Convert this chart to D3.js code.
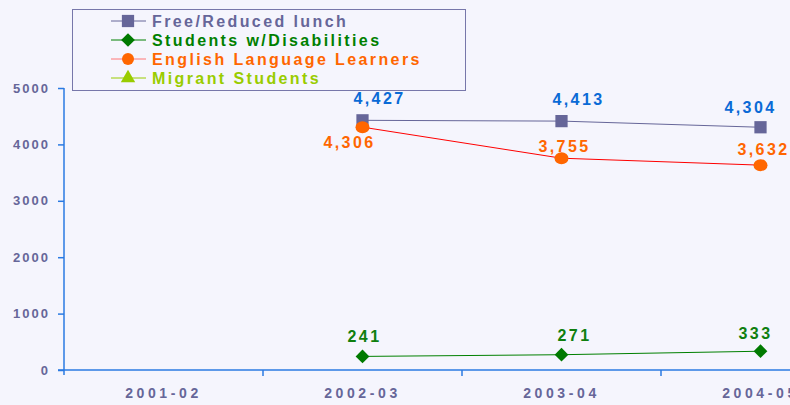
<!DOCTYPE html>
<html>
<head>
<meta charset="utf-8">
<script src="https://cdn.jsdelivr.net/npm/d3@7"></script>
<style>
  html, body { margin: 0; padding: 0; background: #f5f5fd; overflow: hidden; }
  svg { display: block; font-family: "Liberation Sans", Arial, sans-serif; font-weight: bold; }
</style>
</head>
<body>
<div id="chart"></div>
<script>
// Chart data
const years = ['2001-02', '2002-03', '2003-04', '2004-05'];
const freeReduced = [null, 4427, 4413, 4304];
const disabilities = [null, 241, 271, 333];
const englishLearners = [null, 4306, 3755, 3632];
const migrant = [null, null, null, null];
const yTicks = [0, 1000, 2000, 3000, 4000, 5000];

const series = [
    { name: 'Free/Reduced lunch', values: freeReduced, line: '#666699', fill: '#666699', text: '#666699', label: '#0a6ad6', shape: 'square' },
    { name: 'Students w/Disabilities', values: disabilities, line: '#008000', fill: '#007a00', text: '#008000', label: '#0f7f0f', shape: 'diamond' },
    { name: 'English Language Learners', values: englishLearners, line: '#ff0000', fill: '#ff6600', text: '#ff6600', label: '#ff6600', shape: 'circle' },
    { name: 'Migrant Students', values: migrant, line: '#99cc00', fill: '#99cc00', text: '#99cc00', label: '#99cc00', shape: 'triangle' }
];

const width = 790;
const height = 405;
const margin = { left: 64, top: 88, bottom: 35 };
const plotRight = 860; // plot area runs past the window edge

const svg = d3.select('#chart')
    .append('svg')
    .attr('width', width)
    .attr('height', height);

const x = d3.scaleBand().domain(years).range([margin.left, plotRight]);
const y = d3.scaleLinear().domain([0, 5000]).range([height - margin.bottom, margin.top]);
const cx = d => x(d) + x.bandwidth() / 2;

// Y axis
const yAxis = svg.append('g')
    .attr('transform', `translate(${margin.left},0)`)
    .call(d3.axisLeft(y).tickValues(yTicks).tickSize(6).tickPadding(8).tickFormat(d3.format('d')));
yAxis.select('.domain').attr('stroke', '#2a7ae2').attr('stroke-width', 1.5)
    .attr('d', `M0,${y(5000)}V${y(0) + 5}`);
yAxis.selectAll('.tick line').attr('stroke', '#2a7ae2').attr('stroke-width', 1.5);
yAxis.selectAll('.tick text')
    .attr('fill', '#666699').style('font-size', '13px').style('letter-spacing', '2px')
    .style('font-weight', 'bold').style('font-family', '"Liberation Sans", Arial, sans-serif');

// X axis
const xAxis = svg.append('g')
    .attr('transform', `translate(0,${y(0)})`)
    .call(d3.axisBottom(x).tickSize(0).tickPadding(18));
xAxis.select('.domain').attr('stroke', '#2a7ae2').attr('stroke-width', 1.5)
    .attr('d', `M${margin.left - 6},0H${plotRight}`);
xAxis.selectAll('.tick text')
    .attr('fill', '#666699').style('font-size', '14px').style('letter-spacing', '3.6px')
    .style('font-weight', 'bold').style('font-family', '"Liberation Sans", Arial, sans-serif');
xAxis.selectAll('.sep')
    .data(years.slice(1))
    .enter()
    .append('line')
    .attr('x1', d => x(d)).attr('x2', d => x(d))
    .attr('y1', 0).attr('y2', 6)
    .attr('stroke', '#2a7ae2').attr('stroke-width', 1.5);

// Marker drawing
function marker(g, shape, color, size) {
    const sym = {
        square: d3.symbolSquare,
        diamond: d3.symbolDiamond2,
        circle: d3.symbolCircle,
        triangle: d3.symbolTriangle
    }[shape];
    g.append('path')
        .attr('d', d3.symbol().type(sym).size(size)())
        .attr('fill', color);
}

const markerSize = { square: 150, diamond: 120, circle: 130, triangle: 90 };

// Lines and points
series.forEach(s => {
    const pts = years.map((yr, i) => ({ yr, v: s.values[i] })).filter(p => p.v !== null);
    if (!pts.length) return;

    svg.append('path')
        .datum(pts)
        .attr('fill', 'none')
        .attr('stroke', s.line)
        .attr('stroke-width', 1)
        .attr('d', d3.line().x(p => cx(p.yr)).y(p => y(p.v)));

    pts.forEach(p => {
        const g = svg.append('g').attr('transform', `translate(${cx(p.yr)},${y(p.v)})`);
        if (s.shape === 'circle') {
            g.append('ellipse').attr('rx', 7).attr('ry', 6).attr('fill', s.fill);
        } else {
            marker(g, s.shape, s.fill, markerSize[s.shape]);
        }
    });
});

// Data labels
const fmt = d3.format(',');
const lastYear = years[years.length - 1];
series.forEach(s => {
    years.forEach((yr, i) => {
        const v = s.values[i];
        if (v === null) return;
        const last = yr === lastYear;
        let dx = last ? -10 : 17;
        let dy = last ? -14 : -16;
        if (s.shape === 'circle') {
            // keep the orange label clear of the lunch series when the lines are close
            const other = freeReduced[i];
            if (other !== null && Math.abs(y(v) - y(other)) < 15) {
                dy = 21;
                dx = -13;
            } else {
                dy = last ? -10 : -6;
                dx = 3;
            }
        } else if (s.shape === 'diamond') {
            dx = last ? -5 : (i === 1 ? 2 : 13);
            dy = last ? -12 : -14;
        }
        svg.append('text')
            .attr('x', cx(yr) + dx)
            .attr('y', y(v) + dy)
            .attr('text-anchor', 'middle')
            .attr('fill', s.label)
            .style('font-size', '16px')
            .style('letter-spacing', '2.4px')
            .text(fmt(v));
    });
});

// Legend
const legend = svg.append('g');
legend.append('rect')
    .attr('x', 72.5).attr('y', 9.5)
    .attr('width', 393).attr('height', 81)
    .attr('fill', '#f5f5fd')
    .attr('stroke', '#7777aa')
    .attr('stroke-width', 1);

series.forEach((s, i) => {
    const ly = 21 + i * 19;
    const g = legend.append('g').attr('transform', `translate(0,${ly})`);
    g.append('line')
        .attr('x1', 111).attr('x2', 146)
        .attr('y1', 0).attr('y2', 0)
        .attr('stroke', s.shape === 'circle' ? '#ff7777' : s.line)
        .attr('stroke-width', 1);
    const m = g.append('g').attr('transform', 'translate(128,0)');
    if (s.shape === 'circle') {
        m.append('circle').attr('r', 6).attr('fill', s.fill);
    } else {
        marker(m, s.shape, s.fill, markerSize[s.shape]);
    }
    g.append('text')
        .attr('x', 152)
        .attr('dy', '0.36em')
        .attr('fill', s.text)
        .style('font-size', '16px')
        .style('letter-spacing', '2.4px')
        .text(s.name);
});
</script>
</body>
</html>
